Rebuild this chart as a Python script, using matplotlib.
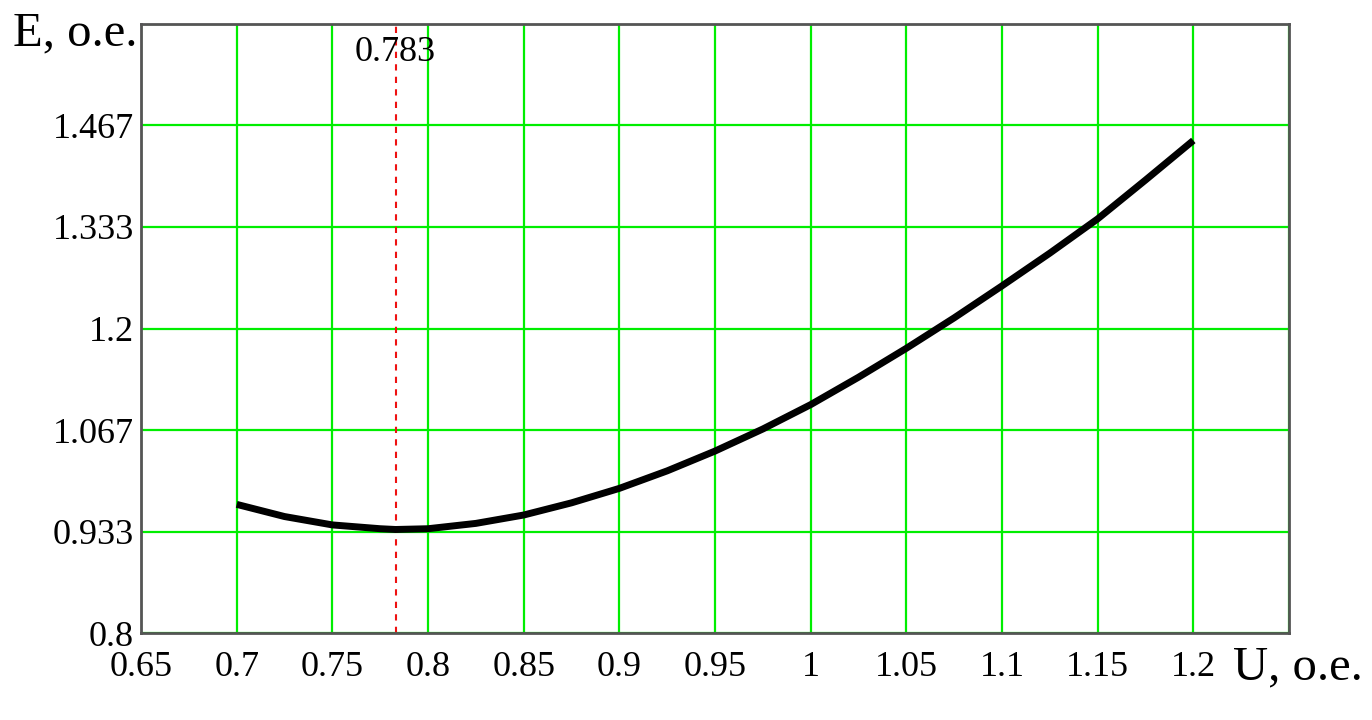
import numpy as np
import matplotlib.pyplot as plt

# curve
u = [0.700, 0.725, 0.750, 0.775, 0.783, 0.800, 0.825, 0.850, 0.875, 0.900, 0.925,
     0.950, 0.975, 1.000, 1.025, 1.050, 1.075, 1.100, 1.125, 1.150, 1.175, 1.200]
e = [0.969, 0.953, 0.942, 0.937, 0.936, 0.937, 0.944, 0.955, 0.971, 0.990, 1.013,
     1.039, 1.068, 1.100, 1.136, 1.174, 1.214, 1.256, 1.299, 1.344, 1.395, 1.447]
u_min = 0.783

xticks = [0.65, 0.7, 0.75, 0.8, 0.85, 0.9, 0.95, 1.0, 1.05, 1.1, 1.15, 1.2]
xticklabels = ["0.65", "0.7", "0.75", "0.8", "0.85", "0.9", "0.95", "1", "1.05", "1.1", "1.15", "1.2"]
yticks = [0.8, 0.8 + 0.8 / 6, 0.8 + 1.6 / 6, 1.2, 0.8 + 3.2 / 6, 0.8 + 4 / 6]
yticklabels = ["0.8", "0.933", "1.067", "1.2", "1.333", "1.467"]

plt.rcParams['font.family'] = ['Liberation Serif', 'DejaVu Serif']

fig = plt.figure(figsize=(13.72, 7.2), dpi=100)
ax = fig.add_axes([0.1028, 0.1208, 0.8367, 0.8459])

ax.set_xlim(0.65, 1.25)
ax.set_ylim(0.8, 1.6)

# grid
for gx in np.arange(0.65, 1.2501, 0.05):
    ax.axvline(gx, color='#00ee00', lw=1.6, zorder=1)
for gy in yticks + [1.6]:
    ax.axhline(gy, color='#00ee00', lw=1.6, zorder=1)

ax.plot(u, e, color='black', lw=5, zorder=3, solid_capstyle='butt', solid_joinstyle='round')
ax.axvline(u_min, color='#ee1111', lw=1.5, ls=(0, (3, 3)), zorder=2)
ax.text(u_min, 1.584, "0.783", ha='center', va='top', fontsize=26)

ax.set_xticks(xticks)
ax.set_xticklabels(xticklabels, fontsize=26)
ax.set_yticks(yticks)
ax.set_yticklabels(yticklabels, fontsize=26)
ax.tick_params(length=0)
ax.tick_params(axis='x', pad=13)
ax.tick_params(axis='y', pad=5)

for s in ax.spines.values():
    s.set_color('#555555')
    s.set_linewidth(2)

ax.text(-0.0035, 0.9655, "E, o.e.", transform=ax.transAxes, ha='right', va='baseline', fontsize=35)
ax.text(0.951, -0.077, "U, o.e.", transform=ax.transAxes, ha='left', va='baseline', fontsize=35)

fig.savefig('out.png', dpi=100)
